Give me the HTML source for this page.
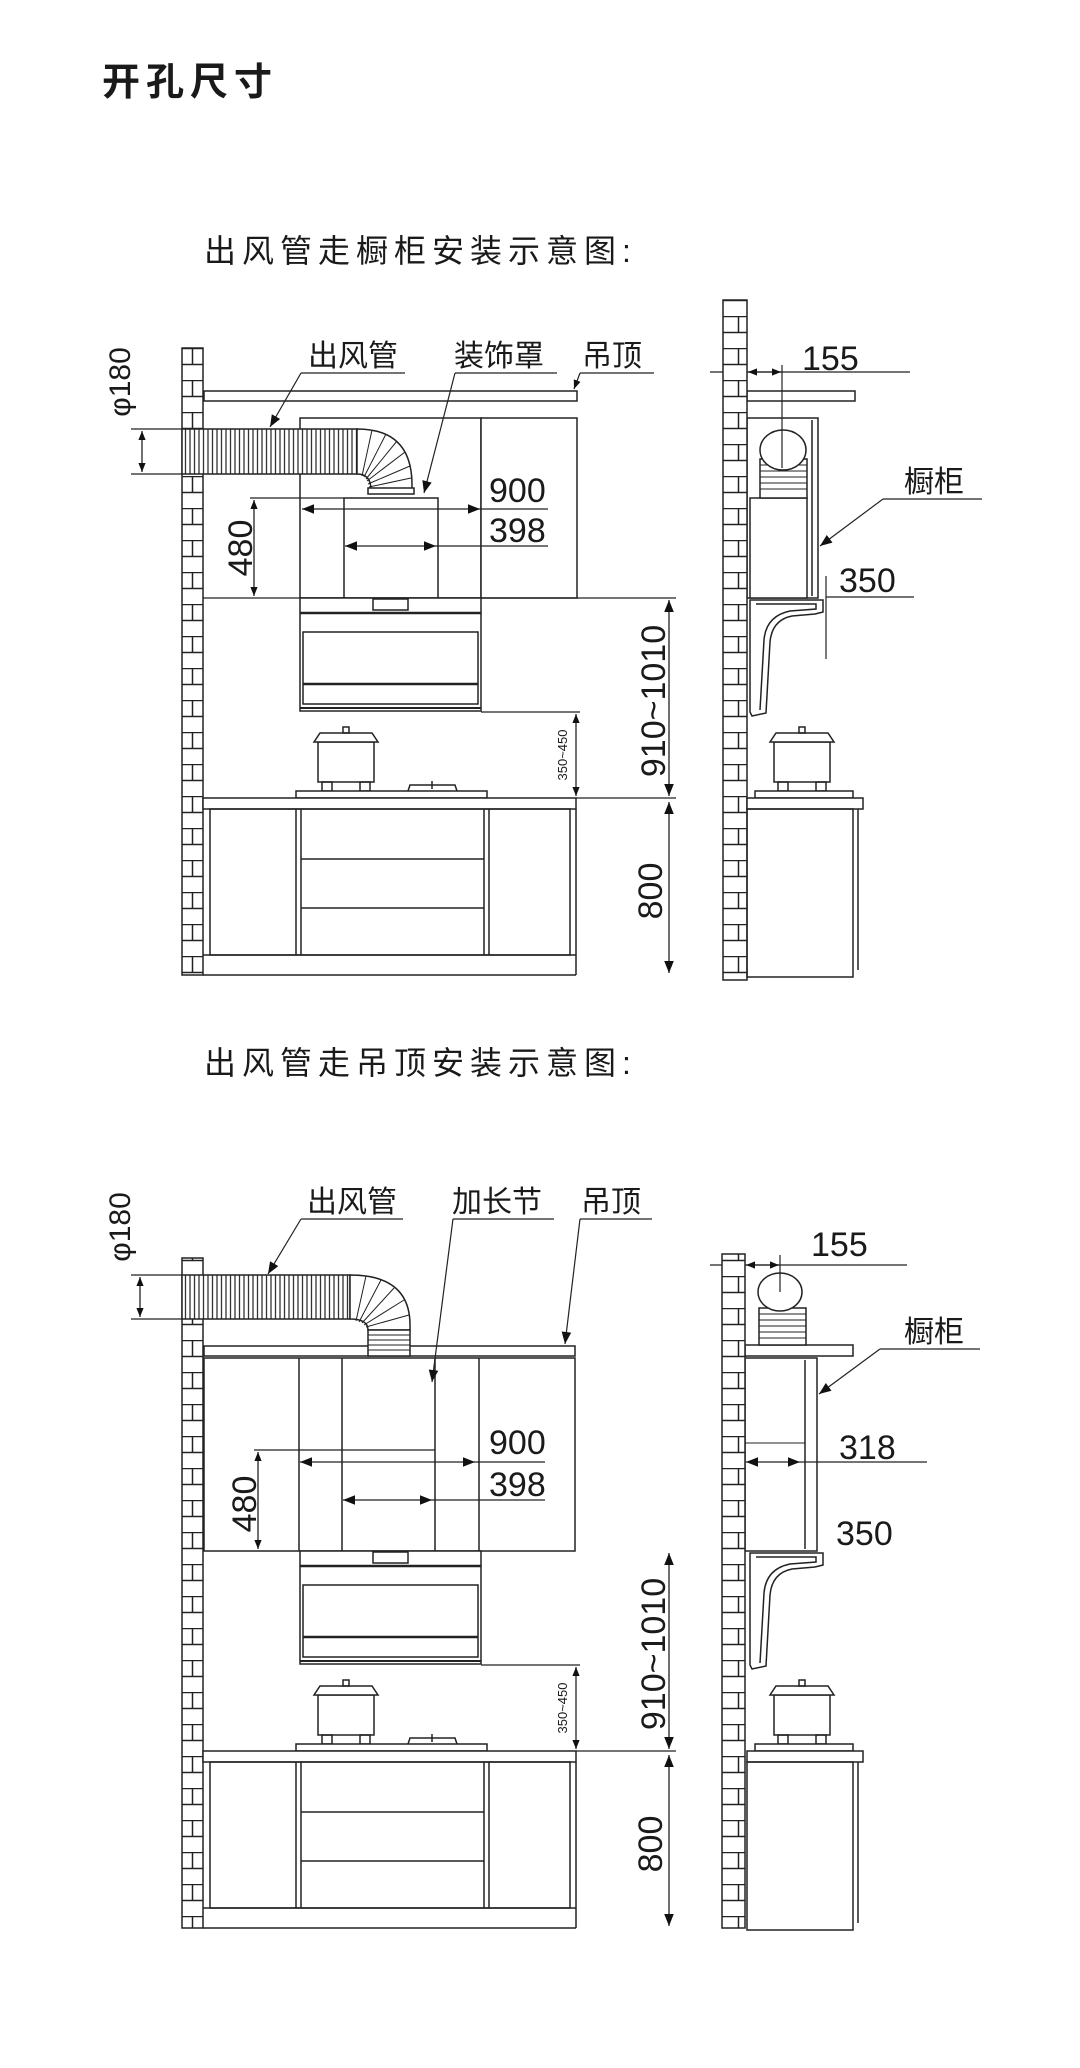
<!DOCTYPE html>
<html><head><meta charset="utf-8"><style>
html,body{margin:0;padding:0;background:#fff;}
svg{display:block;}
text{font-family:"Liberation Sans","Noto Sans CJK SC",sans-serif;fill:#1a1a1a;}
.t{font-size:30px;}
.n{font-size:34px;}
</style></head><body>
<svg width="1080" height="2068" viewBox="0 0 1080 2068" xmlns="http://www.w3.org/2000/svg">
<defs>
<pattern id="brick" x="182" y="348" width="21" height="32" patternUnits="userSpaceOnUse">
<rect width="21" height="32" fill="#fff"/>
<line x1="0" y1="0.5" x2="21" y2="0.5" stroke="#222" stroke-width="1.5"/>
<line x1="0" y1="16.5" x2="21" y2="16.5" stroke="#222" stroke-width="1.5"/>
<line x1="10.5" y1="0" x2="10.5" y2="16" stroke="#222" stroke-width="1.5"/>
</pattern>
<pattern id="duct" x="0" y="0" width="4.5" height="10" patternUnits="userSpaceOnUse">
<rect width="4.5" height="10" fill="#fff"/>
<line x1="1" y1="0" x2="1" y2="10" stroke="#333" stroke-width="1.3"/>
</pattern>
<marker id="a" viewBox="0 0 10 10" refX="10" refY="5" markerWidth="9" markerHeight="9" orient="auto-start-reverse" markerUnits="userSpaceOnUse">
<path d="M0,1 L10,5 L0,9 Z" fill="#111"/>
</marker>
<marker id="b" viewBox="0 0 10 10" refX="10" refY="5" markerWidth="14" markerHeight="12" orient="auto-start-reverse" markerUnits="userSpaceOnUse">
<path d="M0,1 L10,5 L0,9 Z" fill="#111"/>
</marker>
<g id="lower" fill="none" stroke="#222" stroke-width="1.5">
<!-- hood -->
<rect x="300" y="598" width="181" height="113" fill="#fff"/>
<rect x="373" y="599" width="35" height="11"/>
<line x1="300" y1="613" x2="481" y2="613" stroke-width="2.5"/>
<rect x="303" y="632" width="175" height="72"/>
<line x1="303" y1="684" x2="478" y2="684" stroke-width="2.5"/>
<line x1="300" y1="708" x2="481" y2="708" stroke-width="2"/>
<line x1="481" y1="712" x2="580" y2="712" stroke-width="1.2"/>
<line x1="576" y1="714" x2="576" y2="796" marker-start="url(#a)" marker-end="url(#a)" stroke-width="1.3"/>
<line x1="669" y1="600" x2="669" y2="796" marker-start="url(#b)" marker-end="url(#b)" stroke-width="1.3"/>
<!-- pot and stove -->
<rect x="318" y="742" width="56" height="40" fill="#fff"/>
<path d="M314,742 L378,742 L372,733 L320,733 Z" fill="#fff"/>
<rect x="343" y="727" width="6" height="6"/>
<rect x="322" y="782" width="10" height="9"/>
<rect x="360" y="782" width="10" height="9"/>
<rect x="296" y="791" width="191" height="7" fill="#fff"/>
<path d="M408,791 L410,785 L455,785 L457,791" />
<line x1="432" y1="781" x2="432" y2="789"/>
<!-- counter and cabinet -->
<rect x="203" y="798" width="373" height="11" fill="#fff"/>
<rect x="210" y="809" width="360" height="146"/>
<line x1="296" y1="809" x2="296" y2="955"/>
<line x1="301" y1="809" x2="301" y2="955"/>
<line x1="484" y1="809" x2="484" y2="955"/>
<line x1="489" y1="809" x2="489" y2="955"/>
<line x1="301" y1="859" x2="484" y2="859"/>
<line x1="301" y1="908" x2="484" y2="908"/>
<line x1="203" y1="955" x2="576" y2="955"/>
<line x1="203" y1="975" x2="576" y2="975"/>
<line x1="576" y1="809" x2="576" y2="975"/>
<line x1="576" y1="798" x2="676" y2="798" stroke-width="1.2"/>
<line x1="669" y1="802" x2="669" y2="973" marker-start="url(#b)" marker-end="url(#b)" stroke-width="1.3"/>
<!-- right side lower -->
<path d="M750,600 L823,600 L823,612 L815,614 L792,616 Q772,620 770,642 L766,713 L752,716 L750,712 Z" fill="#fff"/>
<path d="M756,604 L816,604 L816,609 L790,611 Q766,616 764,640 L760,710" />
<rect x="774" y="742" width="56" height="40" fill="#fff"/>
<path d="M770,742 L834,742 L828,733 L776,733 Z" fill="#fff"/>
<rect x="799" y="727" width="6" height="6"/>
<rect x="778" y="782" width="10" height="9"/>
<rect x="816" y="782" width="10" height="9"/>
<rect x="755" y="791" width="98" height="7" fill="#fff"/>
<rect x="747" y="798" width="116" height="11" fill="#fff"/>
<rect x="747" y="809" width="106" height="168"/>
<line x1="858" y1="809" x2="858" y2="970"/>
</g>
</defs>

<text x="102" y="95" style="font-size:38px;font-weight:bold;letter-spacing:6px">开孔尺寸</text>
<text x="204" y="262" style="font-size:32px;letter-spacing:6px">出风管走橱柜安装示意图:</text>
<text x="204" y="1074" style="font-size:32px;letter-spacing:6px">出风管走吊顶安装示意图:</text>

<!-- ============ DIAGRAM 1 ============ -->
<rect x="182" y="348" width="21" height="627" fill="url(#brick)" stroke="#222" stroke-width="1.5"/>
<g fill="none" stroke="#222" stroke-width="1.5">
<rect x="204" y="391" width="373" height="10" fill="#fff"/>
<rect x="300" y="418" width="181" height="180" fill="#fff"/>
<rect x="481" y="418" width="96" height="180" fill="#fff"/>
<rect x="344" y="498" width="94" height="100" fill="#fff"/>
<line x1="203" y1="598" x2="676" y2="598" stroke-width="1.2"/>
<!-- duct -->
<rect x="182" y="429" width="175" height="45" fill="url(#duct)"/>
<path d="M357,429 Q412,429 412,485 L412,490 L371,490 Q371,474 357,474 Z" fill="#fff"/>
<path d="M362,476 L372,430 M364,477 L386,434 M366,479 L397,441 M367,481 L405,452 M368,484 L410,466 M369,487 L411,478" stroke-width="1"/>
<rect x="368" y="488" width="46" height="6" fill="#fff"/>
<!-- dims -->
<line x1="131" y1="429" x2="182" y2="429" stroke-width="1.2"/>
<line x1="131" y1="474" x2="182" y2="474" stroke-width="1.2"/>
<line x1="142" y1="431" x2="142" y2="472" marker-start="url(#a)" marker-end="url(#a)" stroke-width="1.3"/>
<line x1="250" y1="498" x2="344" y2="498" stroke-width="1.2"/>
<line x1="254" y1="500" x2="254" y2="596" marker-start="url(#a)" marker-end="url(#a)" stroke-width="1.3"/>
<line x1="302" y1="509" x2="480" y2="509" marker-start="url(#b)" marker-end="url(#b)" stroke-width="1.3"/>
<line x1="480" y1="509" x2="548" y2="509" stroke-width="1.3"/>
<line x1="345" y1="546" x2="436" y2="546" marker-start="url(#b)" marker-end="url(#b)" stroke-width="1.3"/>
<line x1="436" y1="546" x2="548" y2="546" stroke-width="1.3"/>
<!-- leaders -->
<line x1="301" y1="373" x2="405" y2="373" stroke-width="1.2"/>
<line x1="455" y1="373" x2="557" y2="373" stroke-width="1.2"/>
<line x1="580" y1="373" x2="654" y2="373" stroke-width="1.2"/>
<line x1="301" y1="373" x2="270" y2="427" marker-end="url(#b)" stroke-width="1.2"/>
<line x1="455" y1="373" x2="424" y2="493" marker-end="url(#b)" stroke-width="1.2"/>
<line x1="580" y1="373" x2="574" y2="389" marker-end="url(#a)" stroke-width="1.2"/>
<!-- right diagram 1 -->
<rect x="747" y="391" width="108" height="10" fill="#fff"/>
<rect x="747" y="418" width="71" height="180" fill="#fff"/>
<line x1="812" y1="420" x2="812" y2="596"/>
<rect x="750" y="498" width="57" height="100" fill="#fff"/>
<rect x="760" y="459" width="47" height="39" fill="#fff"/>
<path d="M760,465 H807 M760,471 H807 M760,477 H807 M760,483 H807 M760,489 H807" stroke-width="1"/>
<ellipse cx="783" cy="450" rx="23" ry="20" fill="#fff"/>
<line x1="710" y1="372" x2="910" y2="372" stroke-width="1.2"/>
<line x1="748" y1="372" x2="781" y2="372" marker-start="url(#a)" marker-end="url(#a)" stroke-width="1.3"/>
<line x1="782" y1="365" x2="782" y2="468" stroke-width="1.2"/>
<line x1="883" y1="499" x2="982" y2="499" stroke-width="1.2"/>
<line x1="883" y1="499" x2="820" y2="546" marker-end="url(#b)" stroke-width="1.2"/>
<line x1="826" y1="597" x2="914" y2="597" stroke-width="1.2"/>
<line x1="826" y1="576" x2="826" y2="659" stroke-width="1.2"/>
</g>
<rect x="723" y="300" width="24" height="680" fill="url(#brick)" stroke="#222" stroke-width="1.5"/>
<use href="#lower"/>

<text class="t" x="308" y="366">出风管</text>
<text class="t" x="454" y="366">装饰罩</text>
<text class="t" x="582" y="366">吊顶</text>
<text class="n" x="489" y="502">900</text>
<text class="n" x="489" y="542">398</text>
<text class="n" transform="translate(252,548) rotate(-90)" text-anchor="middle">480</text>
<text class="t" transform="translate(130,382) rotate(-90)" text-anchor="middle">φ180</text>
<text style="font-size:13px" transform="translate(567,755) rotate(-90)" text-anchor="middle">350~450</text>
<text class="n" transform="translate(665,701) rotate(-90)" text-anchor="middle">910~1010</text>
<text class="n" transform="translate(662,891) rotate(-90)" text-anchor="middle">800</text>
<text class="n" x="802" y="370">155</text>
<text class="t" x="904" y="492">橱柜</text>
<text class="n" x="839" y="592">350</text>

<!-- ============ DIAGRAM 2 ============ -->
<rect x="182" y="1258" width="21" height="670" fill="url(#brick)" stroke="#222" stroke-width="1.5"/>
<g fill="none" stroke="#222" stroke-width="1.5">
<rect x="204" y="1346" width="371" height="10" fill="#fff"/>
<rect x="204" y="1358" width="371" height="193" fill="#fff"/>
<line x1="299" y1="1358" x2="299" y2="1551"/>
<line x1="342" y1="1358" x2="342" y2="1551"/>
<line x1="435" y1="1358" x2="435" y2="1551"/>
<line x1="479" y1="1358" x2="479" y2="1551"/>
<!-- duct -->
<rect x="182" y="1275" width="168" height="44" fill="url(#duct)"/>
<path d="M350,1275 Q410,1275 410,1325 L410,1330 L368,1330 Q368,1319 350,1319 Z" fill="#fff"/>
<path d="M356,1321 L366,1276 M359,1322 L381,1280 M362,1323 L394,1288 M364,1325 L404,1300 M366,1327 L409,1315" stroke-width="1"/>
<rect x="368" y="1330" width="42" height="26" fill="#fff"/>
<path d="M368,1335 H410 M368,1340 H410 M368,1345 H410 M368,1350 H410" stroke-width="1"/>
<!-- dims -->
<line x1="131" y1="1275" x2="182" y2="1275" stroke-width="1.2"/>
<line x1="131" y1="1319" x2="182" y2="1319" stroke-width="1.2"/>
<line x1="140" y1="1277" x2="140" y2="1317" marker-start="url(#a)" marker-end="url(#a)" stroke-width="1.3"/>
<line x1="254" y1="1450" x2="435" y2="1450" stroke-width="1.2"/>
<line x1="258" y1="1452" x2="258" y2="1549" marker-start="url(#a)" marker-end="url(#a)" stroke-width="1.3"/>
<line x1="300" y1="1462" x2="475" y2="1462" marker-start="url(#b)" marker-end="url(#b)" stroke-width="1.3"/>
<line x1="475" y1="1462" x2="545" y2="1462" stroke-width="1.3"/>
<line x1="343" y1="1500" x2="432" y2="1500" marker-start="url(#b)" marker-end="url(#b)" stroke-width="1.3"/>
<line x1="432" y1="1500" x2="545" y2="1500" stroke-width="1.3"/>
<!-- leaders -->
<line x1="301" y1="1219" x2="403" y2="1219" stroke-width="1.2"/>
<line x1="453" y1="1219" x2="554" y2="1219" stroke-width="1.2"/>
<line x1="580" y1="1219" x2="652" y2="1219" stroke-width="1.2"/>
<line x1="301" y1="1219" x2="268" y2="1274" marker-end="url(#b)" stroke-width="1.2"/>
<line x1="453" y1="1219" x2="432" y2="1382" marker-end="url(#b)" stroke-width="1.2"/>
<line x1="580" y1="1219" x2="565" y2="1344" marker-end="url(#b)" stroke-width="1.2"/>
<!-- right diagram 2 -->
<rect x="745" y="1345" width="108" height="11" fill="#fff"/>
<rect x="745" y="1358" width="72" height="193" fill="#fff"/>
<line x1="805" y1="1360" x2="805" y2="1549"/>
<line x1="745" y1="1443" x2="805" y2="1443" stroke-width="1"/>
<rect x="759" y="1308" width="47" height="37" fill="#fff"/>
<path d="M759,1314 H806 M759,1320 H806 M759,1326 H806 M759,1332 H806 M759,1338 H806" stroke-width="1"/>
<ellipse cx="780" cy="1292" rx="22" ry="19" fill="#fff"/>
<line x1="710" y1="1265" x2="907" y2="1265" stroke-width="1.2"/>
<line x1="746" y1="1265" x2="779" y2="1265" marker-start="url(#a)" marker-end="url(#a)" stroke-width="1.3"/>
<line x1="780" y1="1255" x2="780" y2="1292" stroke-width="1.2"/>
<line x1="746" y1="1462" x2="800" y2="1462" marker-start="url(#b)" marker-end="url(#b)" stroke-width="1.3"/>
<line x1="800" y1="1462" x2="927" y2="1462" stroke-width="1.3"/>
<line x1="880" y1="1349" x2="980" y2="1349" stroke-width="1.2"/>
<line x1="880" y1="1349" x2="819" y2="1394" marker-end="url(#b)" stroke-width="1.2"/>
</g>
<rect x="722" y="1254" width="23" height="674" fill="url(#brick)" stroke="#222" stroke-width="1.5"/>
<use href="#lower" transform="translate(0,953)"/>

<text class="t" x="307" y="1212">出风管</text>
<text class="t" x="452" y="1212">加长节</text>
<text class="t" x="581" y="1212">吊顶</text>
<text class="n" x="489" y="1454">900</text>
<text class="n" x="489" y="1496">398</text>
<text class="n" transform="translate(256,1504) rotate(-90)" text-anchor="middle">480</text>
<text class="t" transform="translate(130,1227) rotate(-90)" text-anchor="middle">φ180</text>
<text style="font-size:13px" transform="translate(567,1708) rotate(-90)" text-anchor="middle">350~450</text>
<text class="n" transform="translate(665,1654) rotate(-90)" text-anchor="middle">910~1010</text>
<text class="n" transform="translate(662,1844) rotate(-90)" text-anchor="middle">800</text>
<text class="n" x="811" y="1256">155</text>
<text class="t" x="904" y="1342">橱柜</text>
<text class="n" x="839" y="1459">318</text>
<text class="n" x="836" y="1545">350</text>
</svg>
</body></html>
